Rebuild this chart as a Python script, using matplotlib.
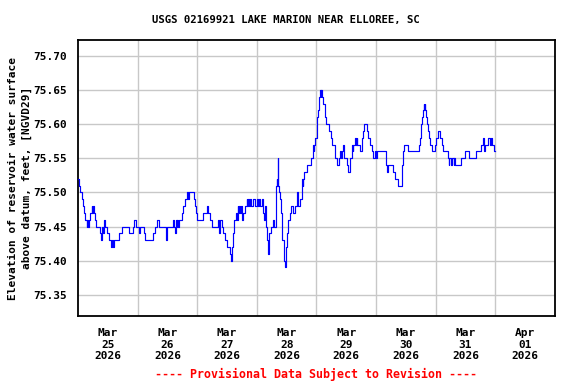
import numpy as np
import matplotlib.pyplot as plt

# Hours after 2026-03-25 00:00 and gage height
hours = [-12.0, -11.7, -11.3, -10.5, -10.0, -9.5, -9.1, -8.5, -8.2, -7.8, -7.5, -7.2,
         -6.5, -6.2, -5.9, -5.5, -5.2, -4.6, -3.0, -2.8, -2.5, -2.0, -1.5, -1.0,
         -0.3, 0.5, 1.2, 1.6, 2.0, 2.3, 4.6, 5.9, 8.6, 10.0, 10.6, 11.3,
         12.6, 12.9, 14.6, 15.0, 18.3, 19.1, 19.9, 20.7, 23.5, 23.9, 26.1, 26.6,
         27.0, 27.3, 27.7, 28.0, 28.3, 28.6, 29.7, 30.3, 31.0, 32.0, 32.3, 32.6,
         34.7, 35.1, 35.7, 36.0, 38.2, 40.0, 40.4, 41.1, 41.8, 44.5, 44.9, 45.2,
         45.8, 46.5, 47.2, 48.0, 49.2, 49.6, 49.9, 50.5, 50.9, 51.5, 51.9, 52.3,
         52.6, 52.8, 53.2, 53.5, 53.9, 54.5, 55.2, 55.9, 56.2, 56.5, 57.0, 57.3,
         57.6, 58.6, 59.2, 59.9, 60.5, 61.0, 61.3, 61.9, 62.6, 62.9, 63.3, 63.6,
         64.0, 64.4, 64.9, 65.7, 66.6, 67.0, 67.6, 68.0, 68.2, 68.4, 68.6, 69.0,
         69.4, 69.7, 70.0, 70.2, 70.8, 71.0, 71.3, 71.7, 72.1, 72.4, 72.7, 73.3,
         73.7, 74.7, 75.4, 76.1, 76.4, 76.7, 77.4, 78.1, 78.4, 78.7, 79.0, 80.1,
         81.7, 82.5, 82.8, 83.1, 83.4, 84.1, 84.3, 84.6, 84.9, 85.2, 85.4, 85.8,
         86.0, 86.2, 86.5, 87.3, 87.6, 87.9, 89.1, 89.9, 90.3, 91.5, 92.2, 93.2,
         93.5, 93.9, 94.2, 94.8, 95.2, 96.2, 96.8, 97.5, 98.2, 98.5, 98.9, 99.5,
         99.8, 100.2, 100.5, 101.6, 102.2, 102.9, 103.3, 104.3, 104.9, 105.6, 106.3, 106.9,
         107.6, 107.9, 108.3, 111.8, 111.9, 112.5, 112.8, 115.0, 115.7, 116.7, 118.4, 118.6,
         118.8, 119.0, 119.4, 120.8, 125.1, 125.7, 126.1, 126.4, 126.7, 127.1, 127.4, 127.6,
         127.8, 128.1, 128.4, 128.8, 129.1, 129.8, 130.5, 131.8, 132.2, 132.9, 133.8, 134.5,
         135.1, 136.9, 137.3, 137.5, 138.2, 138.4, 139.2, 139.5, 139.8, 142.3, 143.6, 145.2,
         148.2, 150.3, 150.9, 151.4, 151.9, 153.0, 153.9, 154.2, 154.6, 155.3, 156.0]
levels = [75.52, 75.51, 75.50, 75.49, 75.48, 75.47, 75.46, 75.45, 75.46, 75.45, 75.46, 75.47,
          75.48, 75.47, 75.48, 75.47, 75.46, 75.45, 75.44, 75.43, 75.45, 75.44, 75.46, 75.45,
          75.44, 75.43, 75.42, 75.43, 75.42, 75.43, 75.44, 75.45, 75.44, 75.45, 75.46, 75.45,
          75.44, 75.45, 75.44, 75.43, 75.44, 75.45, 75.46, 75.45, 75.43, 75.45, 75.46, 75.45,
          75.44, 75.46, 75.45, 75.46, 75.45, 75.46, 75.47, 75.48, 75.49, 75.50, 75.49, 75.50,
          75.49, 75.48, 75.47, 75.46, 75.47, 75.48, 75.47, 75.46, 75.45, 75.46, 75.44, 75.46,
          75.45, 75.44, 75.43, 75.42, 75.41, 75.40, 75.42, 75.44, 75.46, 75.47, 75.46, 75.48,
          75.47, 75.48, 75.47, 75.48, 75.46, 75.47, 75.48, 75.49, 75.48, 75.49, 75.48, 75.49,
          75.48, 75.49, 75.48, 75.49, 75.48, 75.49, 75.48, 75.49, 75.47, 75.46, 75.48, 75.45,
          75.43, 75.41, 75.44, 75.45, 75.46, 75.45, 75.51, 75.52, 75.51, 75.55, 75.51, 75.50,
          75.49, 75.47, 75.46, 75.43, 75.41, 75.40, 75.39, 75.42, 75.44, 75.45, 75.46, 75.47,
          75.48, 75.47, 75.48, 75.50, 75.49, 75.48, 75.49, 75.52, 75.51, 75.52, 75.53, 75.54,
          75.55, 75.57, 75.56, 75.57, 75.58, 75.60, 75.61, 75.62, 75.63, 75.64, 75.65, 75.64,
          75.65, 75.64, 75.63, 75.62, 75.61, 75.60, 75.59, 75.58, 75.57, 75.55, 75.54, 75.55,
          75.56, 75.55, 75.56, 75.57, 75.55, 75.54, 75.53, 75.55, 75.57, 75.56, 75.57, 75.58,
          75.57, 75.58, 75.57, 75.56, 75.58, 75.59, 75.60, 75.59, 75.58, 75.57, 75.56, 75.55,
          75.56, 75.55, 75.56, 75.55, 75.54, 75.53, 75.54, 75.53, 75.52, 75.51, 75.52, 75.54,
          75.55, 75.56, 75.57, 75.56, 75.57, 75.58, 75.60, 75.61, 75.62, 75.63, 75.62, 75.63,
          75.62, 75.61, 75.60, 75.59, 75.58, 75.57, 75.56, 75.57, 75.58, 75.59, 75.58, 75.57,
          75.56, 75.55, 75.54, 75.55, 75.54, 75.55, 75.54, 75.55, 75.54, 75.55, 75.56, 75.55,
          75.56, 75.57, 75.58, 75.56, 75.57, 75.58, 75.57, 75.58, 75.57, 75.56, 75.56]

day_labels = ['Mar\n25\n2026', 'Mar\n26\n2026', 'Mar\n27\n2026', 'Mar\n28\n2026',
              'Mar\n29\n2026', 'Mar\n30\n2026', 'Mar\n31\n2026', 'Apr\n01\n2026']
y_ticks = [75.35, 75.40, 75.45, 75.50, 75.55, 75.60, 75.65, 75.70]

start = np.datetime64('2026-03-25T00:00')
times = start + (np.array(hours) * 60).round().astype('timedelta64[m]')
days = start + np.arange(len(day_labels)).astype('timedelta64[D]')
noons = days[:-1] + np.timedelta64(12, 'h')

mono = 'DejaVu Sans Mono'
fig = plt.figure(figsize=(5.76, 3.84), dpi=100)
ax = fig.add_axes([0.1354, 0.1771, 0.8281, 0.7187])

ax.plot(times, levels, color='#0000ff', lw=0.85, drawstyle='steps-post', zorder=3)

ax.set_xlim(start - np.timedelta64(12, 'h'), days[-1] + np.timedelta64(12, 'h'))
ax.set_ylim(75.319, 75.723)
ax.set_xticks(days)
ax.set_xticklabels(day_labels, family=mono, weight='bold', fontsize=8, linespacing=1.15)
ax.set_xticks(noons, minor=True)
ax.set_yticks(y_ticks)
ax.set_yticklabels(['%.2f' % v for v in y_ticks], family=mono, weight='bold', fontsize=8)
ax.tick_params(which='both', length=0)
ax.tick_params(axis='x', pad=9)
ax.tick_params(axis='y', pad=8)

# grid: vertical lines at noon, horizontal at each y tick
ax.grid(which='minor', axis='x', color='#c8c8c8', lw=1.0)
ax.grid(which='major', axis='y', color='#c8c8c8', lw=1.0)
for s in ax.spines.values():
    s.set_linewidth(1.3)

ax.set_ylabel('Elevation of reservoir water surface\nabove datum, feet, [NGVD29]',
              family=mono, weight='bold', fontsize=8, linespacing=1.5, labelpad=1)
fig.text(0.497, 0.948, 'USGS 02169921 LAKE MARION NEAR ELLOREE, SC', ha='center', va='center',
         family=mono, weight='bold', fontsize=7.7)
fig.text(0.548, 0.024, '---- Provisional Data Subject to Revision ----', ha='center', va='center',
         family=mono, weight='bold', fontsize=8.4, color='#ff0000')

plt.savefig('out.png', dpi=100)
